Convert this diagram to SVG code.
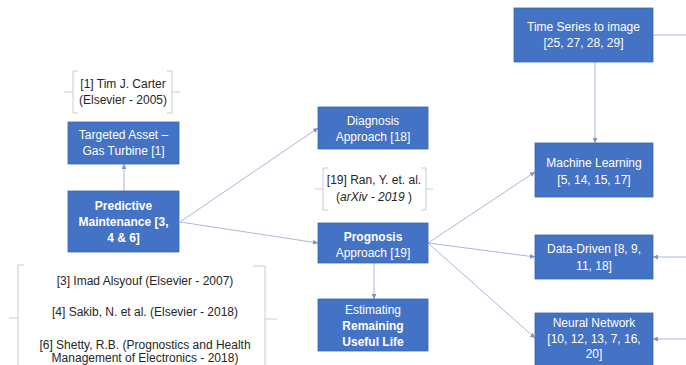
<svg xmlns="http://www.w3.org/2000/svg" width="686" height="365" viewBox="0 0 686 365">
<style>
.box{fill:#4472C4;stroke:#3B66B3;stroke-width:0.8}
.bt{font-family:"Liberation Sans",Arial,sans-serif;font-size:12px;fill:#ffffff;text-anchor:middle}
.b{font-weight:bold}
.ct{font-family:"Liberation Sans",Arial,sans-serif;font-size:12px;fill:#262626;text-anchor:middle}
.br{fill:none;stroke:#C8CCD4;stroke-width:1}
.cn{fill:none;stroke:#A8B8D8;stroke-width:1;marker-end:url(#ah)}
.ln{fill:none;stroke:#A8B8D8;stroke-width:1}
</style>
<defs>
<marker id="ah" viewBox="0 0 10 10" refX="10" refY="5" markerWidth="5" markerHeight="5" orient="auto" markerUnits="userSpaceOnUse">
<path d="M0,0 L10,5 L0,10 z" fill="#7F96C4"/>
</marker>
</defs>
<rect width="686" height="365" fill="#ffffff"/>
<g id="connectors">
<path class="cn" d="M124,191 V164"/>
<path class="cn" d="M180,222 L318,128"/>
<path class="cn" d="M180,222 L318,243"/>
<path class="cn" d="M428,243 L535,172"/>
<path class="cn" d="M428,243 L535,257"/>
<path class="cn" d="M428,243 L535,338"/>
<path class="cn" d="M374,263 V299"/>
<path class="cn" d="M595,62 V143"/>
<path class="ln" d="M653,35 H686"/>
<path class="cn" d="M686,257 H653"/>
<path class="cn" d="M686,339 H653"/>
</g>
<g id="ref-carter">
<path class="br" d="M78,71 H73 V113 H78 M73,92 H64"/>
<path class="br" d="M167,71 H172 V113 H167 M172,92 H180"/>
<text class="ct" x="123" y="88">[1] Tim J. Carter</text>
<text class="ct" x="123" y="104">(Elsevier - 2005)</text>
</g>
<g id="targeted-asset">
<rect class="box" x="68" y="122" width="111" height="42"/>
<text class="bt" x="123.5" y="139">Targeted Asset –</text>
<text class="bt" x="123.5" y="155">Gas Turbine [1]</text>
</g>
<g id="predictive-maintenance">
<rect class="box" x="68" y="191" width="111" height="61"/>
<text class="bt b" x="123.5" y="210">Predictive</text>
<text class="bt b" x="123.5" y="226">Maintenance [3,</text>
<text class="bt b" x="123.5" y="242">4 &amp; 6]</text>
</g>
<g id="ref-group">
<path class="br" d="M24,265 H18 V365 M18,318 H9"/>
<path class="br" d="M253,266 H265 V365 M265,319 H277"/>
<text class="ct" x="145" y="285">[3] Imad Alsyouf (Elsevier - 2007)</text>
<text class="ct" x="145" y="316">[4] Sakib, N. et al. (Elsevier - 2018)</text>
<text class="ct" x="145" y="349">[6] Shetty, R.B. (Prognostics and Health</text>
<text class="ct" x="145" y="362">Management of Electronics - 2018)</text>
</g>
<g id="diagnosis">
<rect class="box" x="318" y="107" width="110" height="42"/>
<text class="bt" x="373" y="125">Diagnosis</text>
<text class="bt" x="373" y="141">Approach [18]</text>
</g>
<g id="ref-ran">
<path class="br" d="M328,168 H323 V210 H328 M323,189 H315"/>
<path class="br" d="M421,168 H426 V210 H421 M426,189 H433"/>
<text class="ct" x="374" y="184">[19] Ran, Y. et. al.</text>
<text class="ct" x="374" y="201">(<tspan font-style="italic">arXiv - 2019</tspan> )</text>
</g>
<g id="prognosis">
<rect class="box" x="318" y="223" width="110" height="40"/>
<text class="bt b" x="373" y="241">Prognosis</text>
<text class="bt" x="373" y="257">Approach [19]</text>
</g>
<g id="rul">
<rect class="box" x="318" y="299" width="110" height="52"/>
<text class="bt" x="373" y="314">Estimating</text>
<text class="bt b" x="373" y="330">Remaining</text>
<text class="bt b" x="373" y="346">Useful Life</text>
</g>
<g id="time-series">
<rect class="box" x="514" y="8" width="139" height="54"/>
<text class="bt" x="583.5" y="31">Time Series to image</text>
<text class="bt" x="583.5" y="47">[25, 27, 28, 29]</text>
</g>
<g id="machine-learning">
<rect class="box" x="535" y="143" width="118" height="54"/>
<text class="bt" x="594" y="167">Machine Learning</text>
<text class="bt" x="594" y="184">[5, 14, 15, 17]</text>
</g>
<g id="data-driven">
<rect class="box" x="535" y="235" width="118" height="44"/>
<text class="bt" x="594" y="253">Data-Driven [8, 9,</text>
<text class="bt" x="594" y="270">11, 18]</text>
</g>
<g id="neural-network">
<rect class="box" x="535" y="313" width="118" height="54"/>
<text class="bt" x="594" y="327">Neural Network</text>
<text class="bt" x="594" y="343">[10, 12, 13, 7, 16,</text>
<text class="bt" x="594" y="358">20]</text>
</g>
</svg>
